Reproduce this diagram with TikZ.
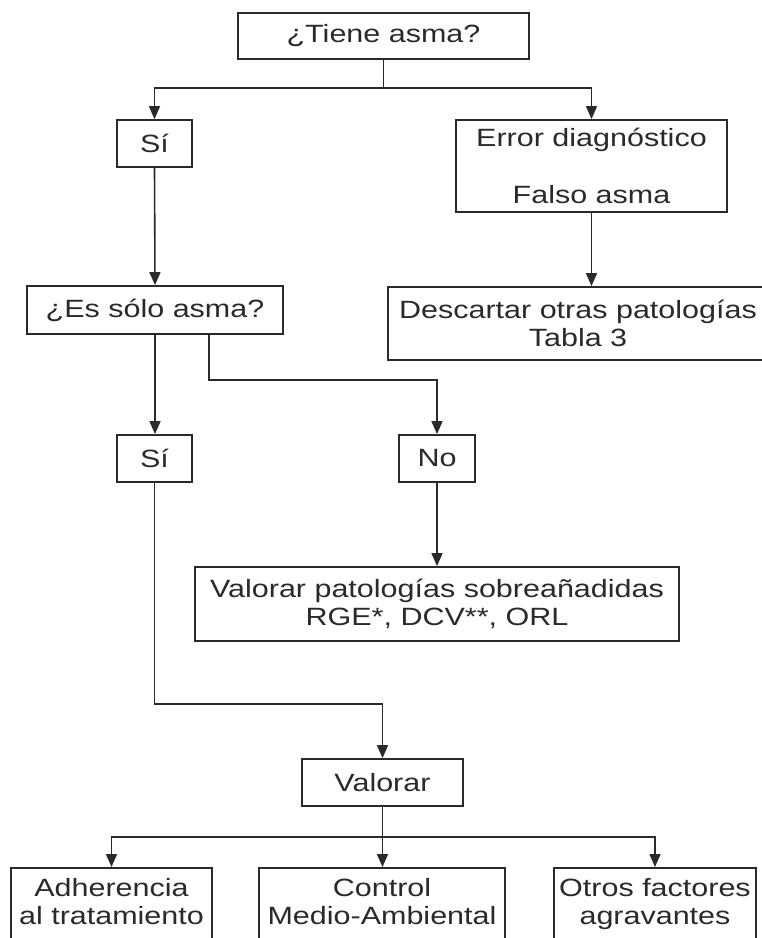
\documentclass[tikz,border=0pt]{standalone}
\usepackage{fontspec}
\setmainfont{Liberation Sans}[FakeStretch=1.22]
\usetikzlibrary{arrows.meta}
\definecolor{ink}{HTML}{2A2A2A}
\begin{document}
\begin{tikzpicture}[x=1pt,y=-1pt,
  box/.style={draw=ink, line width=1.8pt, inner sep=0pt, align=center,
              font=\fontsize{25}{28.5}\selectfont, text=ink},
  arr/.style={draw=ink, line width=1.6pt, -{Triangle[length=13pt,width=11pt]}},
  ln/.style={draw=ink, line width=1.6pt}]
\useasboundingbox (0,0) rectangle (762,938);
\clip (0,0) rectangle (762,938);
\node[box, minimum width=291pt, minimum height=46pt] (top) at (383.5,36) {¿Tiene asma?};
\node[box, minimum width=75pt, minimum height=47pt] (si1) at (154.5,143.5) {Sí};
\node[box, minimum width=271pt, minimum height=92pt] (err) at (591.5,166) {Error diagnóstico\\[28.5pt]Falso asma};
\node[box, minimum width=380pt, minimum height=73pt] (desc) at (578,323.5) {Descartar otras patologías\\Tabla 3};
\node[box, minimum width=256pt, minimum height=48pt] (es) at (155,310) {¿Es sólo asma?};
\node[box, minimum width=75pt, minimum height=47pt] (si2) at (154.5,458.5) {Sí};
\node[box, minimum width=76pt, minimum height=47pt] (no) at (437,458.5) {No};
\node[box, minimum width=484pt, minimum height=74pt] (vp) at (437,604) {Valorar patologías sobreañadidas\\RGE*, DCV**, ORL};
\node[box, minimum width=161pt, minimum height=47pt] (val) at (382.5,782.5) {Valorar};
\node[box, minimum width=201pt, anchor=north, inner ysep=10pt, text depth=40pt] (adh) at (111.5,867) {Adherencia\\al tratamiento};
\node[box, minimum width=246pt, anchor=north, inner ysep=10pt, text depth=40pt] (ctl) at (382,867) {Control\\Medio-Ambiental};
\node[box, minimum width=202pt, anchor=north, inner ysep=10pt, text depth=40pt] (otr) at (655,867) {Otros factores\\agravantes};
% connectors
\coordinate (b1) at (0,88);
\coordinate (b2) at (0,380);
\coordinate (b3) at (0,704);
\coordinate (b4) at (0,837);
\draw[ln] (top.south) -- (top.south |- b1);
\draw[arr] (top.south |- b1) -| (si1.north);
\draw[arr] (top.south |- b1) -| (err.north);
\draw[arr] (si1.south) -- (es.north);
\draw[arr] (err.south) -- (err.south |- desc.north);
\draw[arr] (es.south) -- (es.south |- si2.north);
\draw[arr] ([xshift=54pt]es.south) -- ([xshift=54pt]es.south |- b2) -| (no.north);
\draw[arr] (no.south) -- (vp.north);
\draw[arr] (si2.south) -- (si2.south |- b3) -| (val.north);
\draw[ln] (val.south) -- (val.south |- b4);
\draw[arr] (val.south |- b4) -| (adh.north);
\draw[arr] (val.south |- b4) -| (otr.north);
\draw[arr] (val.south |- b4) -- (val.south |- ctl.north);
\end{tikzpicture}
\end{document}
